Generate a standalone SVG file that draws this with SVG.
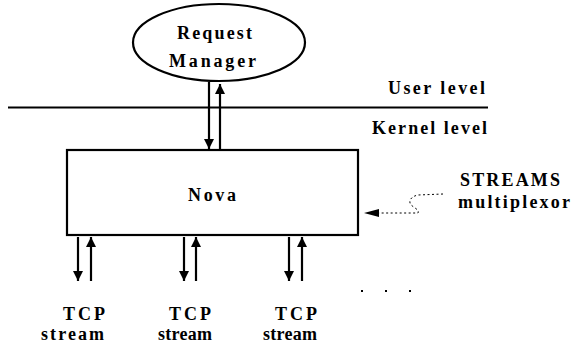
<svg xmlns="http://www.w3.org/2000/svg" width="571" height="349" viewBox="0 0 571 349">
<style>
.s{fill:none;stroke:#000;stroke-width:2.2}
.a{stroke:#000;stroke-width:2.2;fill:none;marker-end:url(#ah)}
.d{fill:none;stroke:#000;stroke-width:1;stroke-dasharray:2,2.5}
</style>
<defs>
<marker id="ah" viewBox="0 0 10 10" markerWidth="10" markerHeight="10" markerUnits="userSpaceOnUse" refX="10" refY="5" orient="auto">
<path d="M0,0 L10,5 L0,10 z" fill="#000"/>
</marker>
</defs>
<rect width="571" height="349" fill="#fff"/>
<line x1="8" y1="107.5" x2="488" y2="107.5" class="s"/>
<g font-family="Liberation Serif, Times New Roman, DejaVu Serif, serif" font-weight="700" font-size="18" fill="#000">
<text x="388" y="94" textLength="97">User level</text>
<text x="372" y="134" textLength="115">Kernel level</text>
<g id="request-manager">
<ellipse cx="219" cy="42.5" rx="86" ry="38.5" class="s"/>
<text x="177" y="39" textLength="75">Request</text>
<text x="169" y="67" textLength="87">Manager</text>
</g>
<g id="nova">
<rect x="67" y="150" width="291" height="85" class="s"/>
<text x="188" y="201" textLength="48">Nova</text>
</g>
<g id="streams-multiplexor">
<text x="460" y="186" textLength="100">STREAMS</text>
<text x="458" y="208" textLength="112">multiplexor</text>
</g>
<g id="tcp1">
<text x="63" y="320" textLength="42">TCP</text>
<text x="41" y="340" textLength="63">stream</text>
</g>
<g id="tcp2">
<text x="169" y="320" textLength="42">TCP</text>
<text x="158" y="340" textLength="54">stream</text>
</g>
<g id="tcp3">
<text x="275" y="320" textLength="42">TCP</text>
<text x="263" y="340" textLength="54">stream</text>
</g>
</g>
<g id="more">
<rect x="361" y="290" width="2" height="2" fill="#000"/>
<rect x="385" y="290" width="2" height="2" fill="#000"/>
<rect x="409" y="290" width="2" height="2" fill="#000"/>
</g>
<g id="connectors">
<line x1="209" y1="82" x2="209" y2="149" class="a"/>
<line x1="220" y1="149" x2="220" y2="84" class="a"/>
<line x1="78" y1="237" x2="78" y2="281" class="a"/>
<line x1="91" y1="281" x2="91" y2="237" class="a"/>
<line x1="184" y1="237" x2="184" y2="281" class="a"/>
<line x1="196" y1="281" x2="196" y2="237" class="a"/>
<line x1="289" y1="237" x2="289" y2="281" class="a"/>
<line x1="302" y1="281" x2="302" y2="237" class="a"/>
<path d="M443,194 L418,195 C413,196 409,199 410,203 C411,207 420,209 418,213 L379,213" class="d"/>
<path d="M364,213 L379,209 L379,217 z" fill="#000"/>
</g>
</svg>
